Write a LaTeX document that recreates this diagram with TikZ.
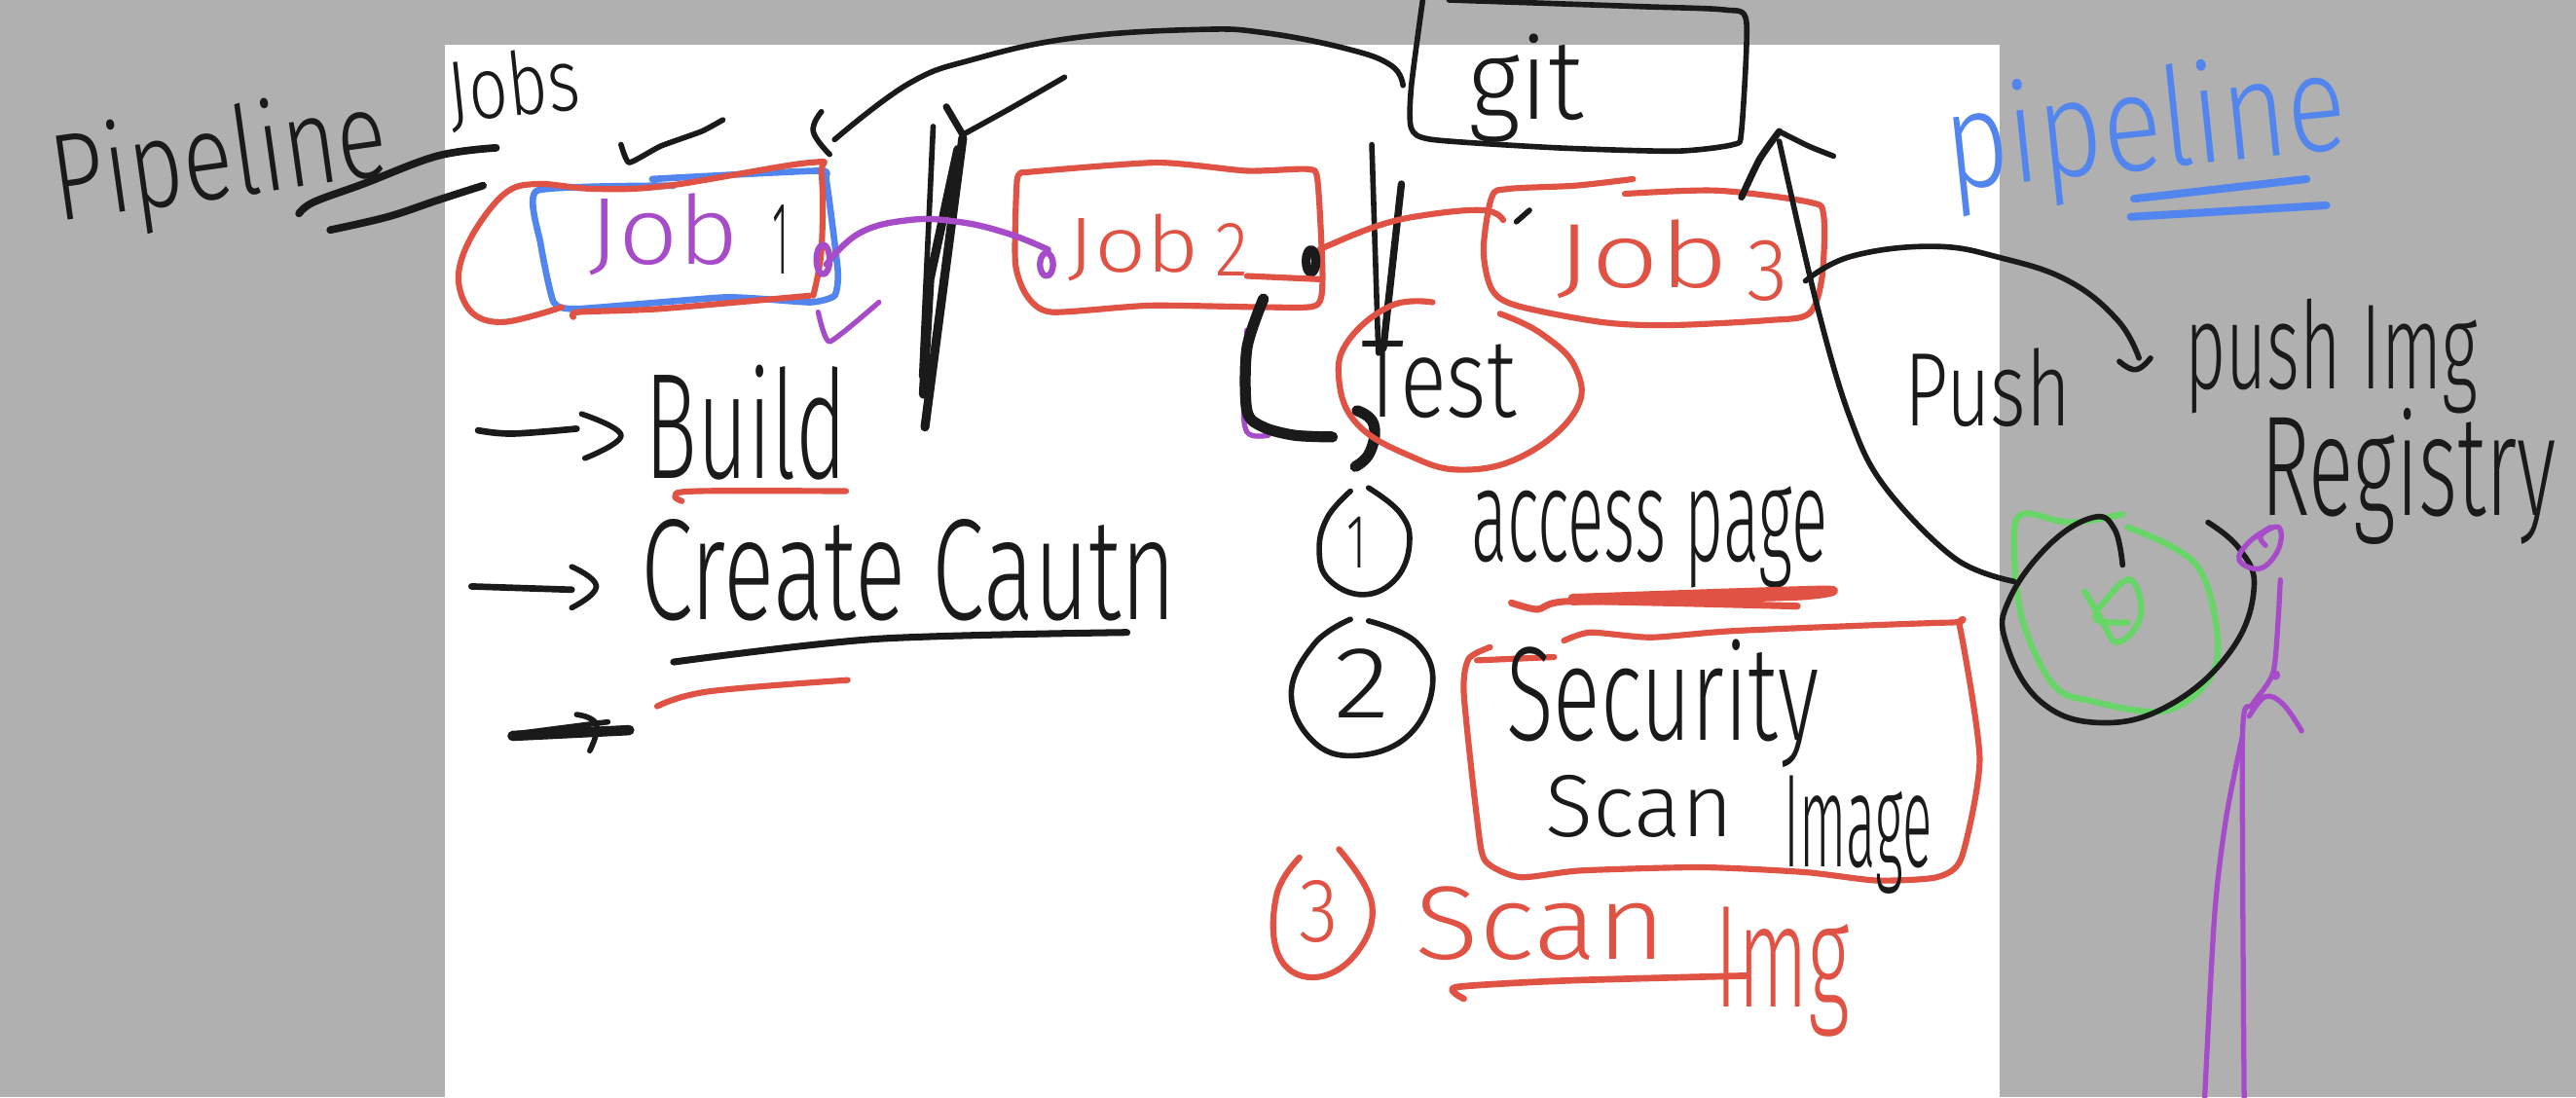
\documentclass[tikz,border=0pt]{standalone}
\usepackage{fontspec}
\setmainfont{Fira Sans}[UprightFont=* Light]
\definecolor{inkblack}{HTML}{1A1A1A}
\definecolor{inkred}{HTML}{E05243}
\definecolor{inkblue}{HTML}{5286EE}
\definecolor{inkpurple}{HTML}{A64CC8}
\definecolor{inkgreen}{HTML}{68D568}
\definecolor{slide}{HTML}{B0B0B0}
\newlength\sk
\setlength\sk{.016875cm}
% text squeezed into a width x height box, as the hand wrote it
\newcommand{\hand}[3]{\resizebox*{#1\sk}{#2\sk}{#3}}

\begin{document}
\begin{tikzpicture}[
  x=.016875cm,y=-.016875cm,
  lab/.style={inner sep=0pt,text=inkblack},
  ink/.style={line cap=round,line join=round,line width=1.6pt,inkblack},
  fat/.style={ink,line width=2.6pt},
  redink/.style={ink,inkred,line width=1.75pt},
  redfat/.style={ink,inkred,line width=2.4pt},
  blueink/.style={ink,inkblue,line width=1.9pt},
  purpleink/.style={ink,inkpurple,line width=1.5pt},
  greenink/.style={ink,inkgreen,line width=1.8pt}]
\useasboundingbox (0,0) rectangle (1568,668);
\fill[slide] (0,0) rectangle (1568,668);
\fill[white] (271,27) rectangle (1217,668);

% green and purple under the black
\draw[greenink] plot[smooth,tension=.6] coordinates {(1292,313) (1260,318) (1231,313) (1226,332) (1231,377) (1250,417) (1274,427) (1316,433) (1342,417) (1350,391) (1337,344) (1295,321)};
\draw[greenink] plot[smooth,tension=.7] coordinates {(1269,360) (1279,377) (1289,391) (1303,375) (1297,353) (1282,365) (1276,377) (1295,379)};
\draw[purpleink] plot[smooth,tension=.6] coordinates {(759,201) (757,240) (759,263) (772,265)};

% job boxes
\draw[blueink] plot[smooth,tension=.3] coordinates {(397,109) (498,104) (503,110) (510,165) (508,180) (493,184) (442,181) (352,188) (337,184) (329,148) (327,116) (410,113)};
\draw[redink] plot[smooth,tension=.6] coordinates {(342,187) (307,196) (287,190) (279,169) (287,144) (307,118) (327,112) (362,115) (407,113) (493,99) (500,106) (500,152) (495,180)};
\draw[redink] plot[smooth,tension=.4] coordinates {(349,193) (352,190) (402,188) (493,180)};
\draw[redink] plot[smooth,tension=.4] coordinates {(623,105) (704,99) (759,104) (796,103) (802,110) (805,169) (801,186) (770,187) (700,186) (640,190) (625,180) (618,160) (619,110) (623,105)};
\draw[redink] plot[smooth,tension=.5] coordinates {(994,109) (959,113) (918,115) (908,120) (903,152) (908,176) (923,186) (974,196) (1015,198) (1076,195) (1101,191) (1109,169) (1110,131) (1101,123) (1045,116) (989,118)};
\draw[ink] (931,128) -- (923,135);

% git box and its curve
\draw[ink] plot[smooth,tension=.4] coordinates {(866,0) (859,53) (859,78) (872,85) (948,90) (1020,92) (1055,88) (1060,80) (1063,13) (1050,6) (999,4) (882,0)};
\draw[ink] plot[smooth,tension=.7] coordinates {(508,85) (553,51) (593,36) (654,23) (729,18) (770,20) (821,30) (847,40) (854,52)};
\draw[ink] plot[smooth,tension=.7] coordinates {(500,68) (495,80) (505,94)};
\node[lab] (git) at (929,54) {\hand{70}{66}{git}};

% scribbled dividers
\draw[fat,line width=2pt] (576,65) -- (586,82);
\draw[ink] plot[smooth,tension=.5] coordinates {(586,82) (615,66) (648,47)};
\draw[ink] (568,77) -- (561,229);
\draw[fat] (586,84) -- (563,260);
\draw[fat] (583,91) -- (566,170) -- (562,240);
\draw[ink] (835,88) -- (839,215);
\draw[fat,line width=2.1pt] (853,112) -- (842,212);

% job to job links
\draw[purpleink,line width=1.8pt] plot[smooth,tension=.7] coordinates {(503,161) (523,142) (553,134) (583,135) (613,142) (638,152)};
\draw[purpleink,line width=1.8pt] (501,158) ellipse (4 and 9);
\draw[purpleink,line width=1.8pt] (637,161) ellipse (4 and 7);
\draw[purpleink] plot[smooth,tension=.3] coordinates {(498,190) (505,208) (535,184)};
\draw[redink] plot[smooth,tension=.7] coordinates {(803,152) (837,138) (867,131) (903,128) (915,134)};
\draw[fat] (798,159) ellipse (3 and 7);
\draw[fat,line width=3.2pt] plot[smooth,tension=.5] coordinates {(769,182) (759,212) (759,250) (769,260) (788,265) (811,266)};
\draw[fat,line width=3.2pt] plot[smooth,tension=.8] coordinates {(826,250) (836,258) (834,275) (825,284)};

% pipeline titles
\node[lab,rotate=8] (pipeblack) at (134,100) {\hand{205}{72}{Pipeline}};
\draw[fat,line width=2.2pt] plot[smooth,tension=.6] coordinates {(302,90) (266,95) (221,112) (191,123) (182,130)};
\draw[fat,line width=2.2pt] plot[smooth,tension=.6] coordinates {(294,113) (266,122) (236,132) (201,140)};
\node[lab,rotate=6] (jobs) at (313,54) {\hand{80}{46}{Jobs}};
\draw[ink] plot[smooth,tension=.3] coordinates {(378,88) (383,99) (402,89) (427,80) (440,73)};
\node[lab,text=inkblue,rotate=6] (pipeblue) at (1306,80) {\hand{245}{80}{pipeline}};
\draw[blueink,line width=2.3pt] (1299,121) -- (1404,109);
\draw[blueink,line width=2.3pt] (1297,132) -- (1416,125);

% job labels
\node[lab,text=inkpurple] (job1) at (404,143) {\hand{92}{50}{Job}};
\node[lab] (one) at (475,146) {\hand{10}{42}{1}};
\node[lab,text=inkred] (job2) at (690,151) {\hand{80}{41}{Job}};
\node[lab,text=inkred] (two) at (750,152) {\hand{20}{32}{2}};
\draw[redink] (759,168) -- (803,170);
\node[lab,text=inkred] (job3) at (1000,158) {\hand{105}{48}{Job}};
\node[lab,text=inkred] (three) at (1076,165) {\hand{25}{37}{3}};

% test
\draw[redink] plot[smooth,tension=.7] coordinates {(872,184) (847,186) (821,207) (815,231) (826,258) (857,277) (890,286) (928,277) (959,250) (959,224) (938,203) (913,191)};
\node[lab] (test) at (876,231) {\hand{94}{47}{Test}};

% left list
\draw[ink,line width=1.9pt] plot[smooth,tension=.6] coordinates {(291,262) (312,264) (351,261)};
\draw[ink] plot[smooth,tension=.7] coordinates {(354,252) (378,265) (356,279)};
\node[lab] (build) at (454,257) {\hand{123}{70}{Build}};
\draw[redink] plot[smooth,tension=.6] coordinates {(415,305) (411,302) (424,299) (515,299)};
\draw[ink,line width=1.9pt] (287,357) -- (348,359);
\draw[ink] plot[smooth,tension=.8] coordinates {(348,345) (363,357) (348,370)};
\node[lab] (cache) at (553,347) {\hand{326}{62}{Create Cautn}};
\draw[fat,line width=2pt] plot[smooth,tension=.5] coordinates {(410,403) (533,389) (686,385)};
\draw[redink] plot[smooth,tension=.6] coordinates {(400,430) (431,421) (516,414)};
\draw[fat,line width=3pt] (312,448) -- (383,444.5);
\draw[ink] (312,447) -- (370,439.5);
\draw[ink] plot[smooth,tension=.8] coordinates {(351,435) (363,441) (359,457)};

% numbered steps
\draw[ink] plot[smooth,tension=.7] coordinates {(822,299) (808,315) (803,335) (809,353) (830,362) (850,352) (858,330) (852,312) (833,297)};
\node[lab] (n1) at (826,330) {\hand{12}{31}{1}};
\node[lab] (page) at (1004,327) {\hand{217}{62}{access page}};
\draw[redfat] plot[smooth,tension=.4] coordinates {(957,364) (1110,359) (1094,363) (957,366)};
\draw[redfat,line width=2pt] plot[smooth,tension=.4] coordinates {(920,367) (936,371) (957,366) (1094,369)};
\draw[ink] plot[smooth,tension=.7] coordinates {(822,377) (800,392) (786,422) (799,451) (825,460) (857,448) (872,417) (862,391) (833,378)};
\node[lab] (n2) at (829,416) {\hand{34}{42}{2}};
\draw[redink] plot[smooth,tension=.4] coordinates {(907,394) (894,401) (891,422) (899,498) (904,524) (925,534) (962,530) (1036,528) (1099,531) (1142,536) (1179,534) (1194,522) (1205,462) (1193,382) (1187,379) (1057,384) (1005,388) (968,385) (952,390)};
\draw[redink] (899,402) -- (946,400);
\node[lab] (security) at (1012,428) {\hand{190}{78}{Security}};
\node[lab] (scan) at (998,491) {\hand{114}{38}{Scan}};
\node[lab] (image) at (1131,508) {\hand{90}{72}{Image}};
\draw[redink] plot[smooth,tension=.7] coordinates {(791,522) (777,545) (778,581) (799,595) (825,581) (835,550) (815,517)};
\node[lab,text=inkred] (n3) at (803,555) {\hand{24}{38}{3}};
\node[lab,text=inkred] (scanred) at (938,562) {\hand{153}{45}{Scan}};
\node[lab,text=inkred] (imgred) at (1085,592) {\hand{82}{79}{Img}};
\draw[redink,line width=1.9pt] plot[smooth,tension=.4] coordinates {(891,608) (886,601) (952,597) (1063,594)};

% push to registry
\draw[ink] plot[smooth,tension=.6] coordinates {(1226,354) (1190,340) (1147,296) (1126,254) (1106,186) (1083,86)};
\draw[fat,line width=2pt] plot[smooth,tension=.4] coordinates {(1060,120) (1071,97) (1083,80)};
\draw[ink] plot[smooth,tension=.4] coordinates {(1083,80) (1101,89) (1116,95)};
\draw[ink] plot[smooth,tension=.7] coordinates {(1099,171) (1127,156) (1177,150) (1218,157) (1259,171) (1289,195) (1302,218)};
\draw[ink] plot[smooth,tension=.8] coordinates {(1290,220) (1300,225) (1309,218)};
\node[lab] (push) at (1210,236) {\hand{101}{48}{Push}};
\node[lab] (pushimg) at (1419,217) {\hand{178}{70}{push Img}};
\node[lab] (registry) at (1466,290) {\hand{180}{83}{Registry}};
\draw[ink] plot[smooth,tension=.7] coordinates {(1292,344) (1287,322) (1274,315) (1247,332) (1223,365) (1221,391) (1242,427) (1279,440) (1321,429) (1358,396) (1372,358) (1363,334) (1344,318)};

% purple figure
\draw[purpleink] plot[smooth,tension=.7] coordinates {(1382,321) (1369,330) (1363,341) (1376,346) (1387,334) (1387,321) (1376,326) (1379,332)};
\draw[purpleink] plot[smooth,tension=.4] coordinates {(1388,353) (1384,408) (1371,429) (1365,448) (1366,668)};
\draw[purpleink] plot[smooth,tension=.5] coordinates {(1365,448) (1355,498) (1348,557) (1342,668)};
\draw[purpleink] plot[smooth,tension=.6] coordinates {(1369,436) (1379,424) (1390,429) (1401,445)};
\fill[inkpurple] (1385,411) circle (3);
\end{tikzpicture}
\end{document}
